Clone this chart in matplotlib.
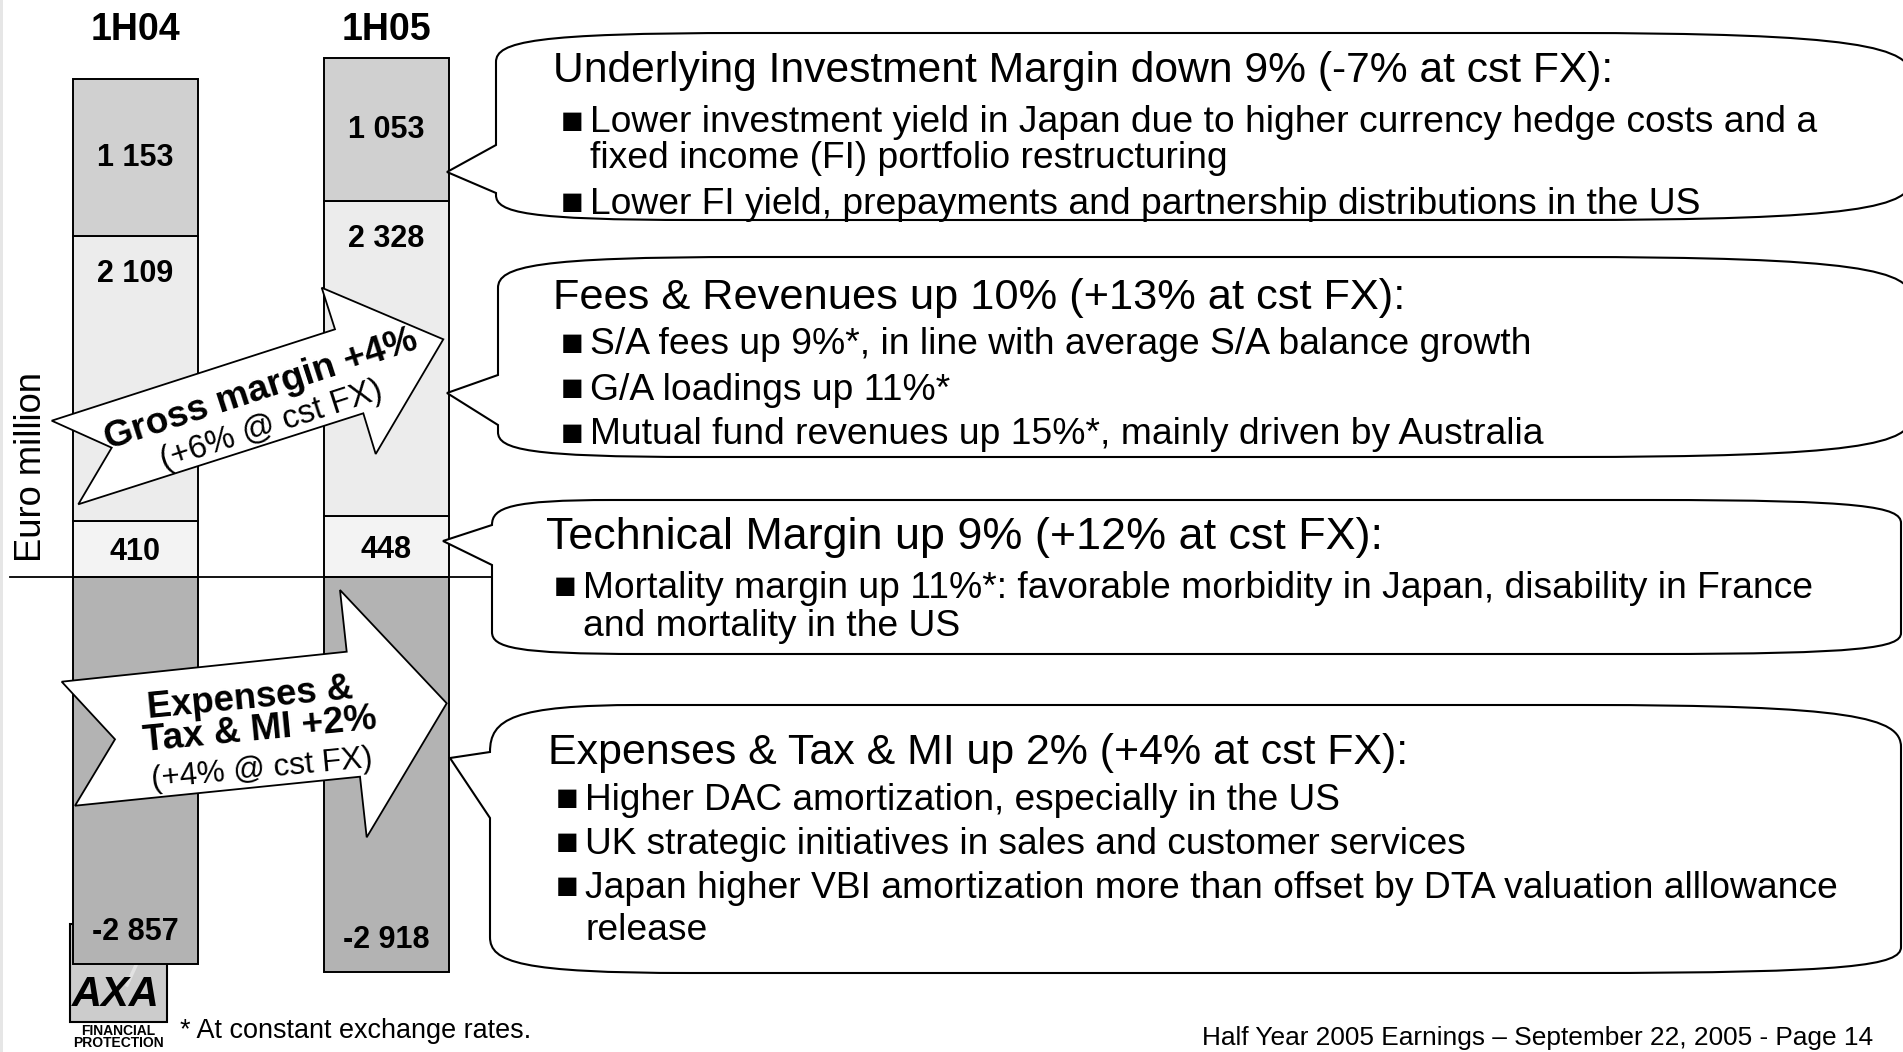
import matplotlib
matplotlib.use("Agg")
import matplotlib.pyplot as plt
from matplotlib.patches import Polygon, Rectangle, PathPatch
from matplotlib.path import Path
from matplotlib.transforms import blended_transform_factory

plt.rcParams['font.family'] = ['Liberation Sans', 'DejaVu Sans']

# ---------------- data ----------------
periods = ["1H04", "1H05"]
technical_margin = [410, 448]
fees_revenues = [2109, 2328]
investment_margin = [1153, 1053]
expenses_tax_mi = [-2857, -2918]

y_label = "Euro million"
gross_margin_text = ["Gross margin +4%", "(+6% @ cst FX)"]
expenses_text = ["Expenses &", "Tax & MI +2%", "(+4% @ cst FX)"]

callout_headings = [
    "Underlying Investment Margin down 9% (-7% at cst FX):",
    "Fees & Revenues up 10% (+13% at cst FX):",
    "Technical Margin up 9% (+12% at cst FX):",
    "Expenses & Tax & MI up 2% (+4% at cst FX):",
]
callout_bullets = [
    [("Lower investment yield in Japan due to higher currency hedge costs and a", True),
     ("fixed income (FI) portfolio restructuring", False),
     ("Lower FI yield, prepayments and partnership distributions in the US", True)],
    [("S/A fees up 9%*, in line with average S/A balance growth", True),
     ("G/A loadings up 11%*", True),
     ("Mutual fund revenues up 15%*, mainly driven by Australia", True)],
    [("Mortality margin up 11%*: favorable morbidity in Japan, disability in France", True),
     ("and mortality in the US", False)],
    [("Higher DAC amortization, especially in the US", True),
     ("UK strategic initiatives in sales and customer services", True),
     ("Japan higher VBI amortization more than offset by DTA valuation alllowance", True),
     ("release", False)],
]
footnote = "* At constant exchange rates."
footer = "Half Year 2005 Earnings \u2013 September 22, 2005 - Page 14"

# ---------------- figure / axes ----------------
W, H = 1903, 1052
fig = plt.figure(figsize=(W / 100, H / 100), dpi=100)
fig.patch.set_facecolor("white")

bg = fig.add_axes([0, 0, 1, 1])
bg.set_xlim(0, W); bg.set_ylim(H, 0); bg.axis("off")

ax = fig.add_axes([0, 0, 1, 1])
ax.axis("off")

fg = fig.add_axes([0, 0, 1, 1])
fg.set_xlim(0, W); fg.set_ylim(H, 0); fg.axis("off")

renderer = fig.canvas.get_renderer()

# bar axes scaling (pixel layout)
x_origin_px, x_unit_px = 135.5, 251.0
zero_px, y_unit_px = 577.0, 0.1355
ax.set_xlim(-x_origin_px / x_unit_px, (W - x_origin_px) / x_unit_px)
ax.set_ylim(-(H - zero_px) / y_unit_px, zero_px / y_unit_px)
bw = 125.0 / x_unit_px

EDGE = dict(edgecolor="black", linewidth=1.4)
xs = list(range(len(periods)))

ax.bar(xs, technical_margin, width=bw, color="#f3f3f3", zorder=2, **EDGE)
ax.bar(xs, fees_revenues, width=bw, bottom=technical_margin, color="#ececec", zorder=2, **EDGE)
bottom_inv = [a + b for a, b in zip(technical_margin, fees_revenues)]
ax.bar(xs, investment_margin, width=bw, bottom=bottom_inv, color="#d0d0d0", zorder=2, **EDGE)
ax.bar(xs, expenses_tax_mi, width=bw, color="#b3b3b3", zorder=2, **EDGE)

ax.axhline(0, xmin=10 / W, xmax=492 / W, color="black", linewidth=1.3, zorder=3)


def fmt(v):
    return f"{v:,}".replace(",", " ")


LBL = dict(ha="center", va="center", fontsize=22, fontweight="bold", zorder=4)
for i, x in enumerate(xs):
    ax.annotate(fmt(investment_margin[i]), (x, bottom_inv[i] + investment_margin[i] / 2),
                xytext=(0, 0), textcoords="offset pixels", **LBL)
    ax.annotate(fmt(fees_revenues[i]), (x, bottom_inv[i]), xytext=(0, -38),
                textcoords="offset pixels", **LBL)
    ax.annotate(fmt(technical_margin[i]), (x, technical_margin[i] / 2),
                xytext=(0, -3), textcoords="offset pixels", **LBL)
    ax.annotate(fmt(expenses_tax_mi[i]), (x, expenses_tax_mi[i]), xytext=(0, 32),
                textcoords="offset pixels", **LBL)

trans_per = blended_transform_factory(ax.transData, fg.transData)
for i, x in enumerate(xs):
    ax.text(x, 30, periods[i], transform=trans_per, ha="center", va="center",
            fontsize=27, fontweight="bold")


# ---------------- helpers ----------------
def fit(axh, x, y, s, width, size=20, rotation=0, **kw):
    t = axh.text(x, y, s, fontsize=size, **kw)
    w = t.get_window_extent(renderer).width
    t.set_fontsize(size * width / w)
    if rotation:
        t.set_rotation(rotation)
        t.set_rotation_mode("anchor")
    return t


# left light strip
bg.add_patch(Rectangle((0, 0), 3, H, facecolor="#e6e6e6", edgecolor="none"))

# AXA logo (behind bars)
bg.add_patch(Rectangle((70, 924), 97, 98, facecolor="#cccccc", edgecolor="black", linewidth=1.5, zorder=1))
bg.plot([127, 137], [985, 963], color="#e2e2e2", linewidth=2.5, zorder=1.5)
bg.text(116, 995, "AXA", fontsize=30, ha="center", va="center", fontweight="bold",
        style="italic", zorder=2)
bg.text(118, 1031, "FINANCIAL", fontsize=10, ha="center", va="center", fontweight="bold", zorder=2)
bg.text(118, 1043, "PROTECTION", fontsize=10, ha="center", va="center", fontweight="bold", zorder=2)

# y label
fit(fg, 32, 467, y_label, 190, 26, rotation=90, ha="center", va="center")

# ---------------- big arrows ----------------
gm_poly = [(51.7, 420.7), (111.7, 447.7), (78.3, 504.3), (363.3, 413.3), (375.7, 454.0),
           (443.3, 339.3), (321.7, 287.7), (335.0, 329.3)]
ex_poly = [(61.7, 681.7), (115.0, 739.3), (75.0, 805.7), (360.0, 776.7), (366.7, 837.3),
           (446.7, 703.3), (340.0, 590.0), (346.7, 651.7)]
for poly in (gm_poly, ex_poly):
    fg.add_patch(Polygon(poly, closed=True, facecolor="white", edgecolor="black",
                         linewidth=1.3, joinstyle="miter", zorder=5))

fit(fg, 261, 390, gross_margin_text[0], 327, 26, rotation=18,
    ha="center", va="center", fontweight="bold", zorder=6)
fit(fg, 271, 425, gross_margin_text[1], 232, 22, rotation=18,
    ha="center", va="center", zorder=6)

fit(fg, 250, 699, expenses_text[0], 207, 26, rotation=5.5,
    ha="center", va="center", fontweight="bold", zorder=6)
fit(fg, 260, 730, expenses_text[1], 235, 26, rotation=5.5,
    ha="center", va="center", fontweight="bold", zorder=6)
fit(fg, 262, 769, expenses_text[2], 222, 22, rotation=5.5,
    ha="center", va="center", zorder=6)


# ---------------- callouts ----------------
def callout(xl, xr, yt, yb, lt, lb, rt, rb, pt, tip, pb, sp):
    slt, slb, srt, srb = sp
    v = [(xl, pt), (xl, lt),
         (xl, yt + 0.3 * (lt - yt)), (xl + 0.15 * slt, yt), (xl + slt, yt),
         (xr - srt, yt),
         (xr - 0.15 * srt, yt), (xr, yt + 0.3 * (rt - yt)), (xr, rt),
         (xr, rb),
         (xr, yb - 0.3 * (yb - rb)), (xr - 0.15 * srb, yb), (xr - srb, yb),
         (xl + slb, yb),
         (xl + 0.15 * slb, yb), (xl, yb - 0.3 * (yb - lb)), (xl, lb),
         (xl, pb), tip, (xl, pt)]
    c = [Path.MOVETO, Path.LINETO,
         Path.CURVE4, Path.CURVE4, Path.CURVE4,
         Path.LINETO,
         Path.CURVE4, Path.CURVE4, Path.CURVE4,
         Path.LINETO,
         Path.CURVE4, Path.CURVE4, Path.CURVE4,
         Path.LINETO,
         Path.CURVE4, Path.CURVE4, Path.CURVE4,
         Path.LINETO, Path.LINETO, Path.CLOSEPOLY]
    fg.add_patch(PathPatch(Path(v, c), facecolor="white", edgecolor="black",
                           linewidth=1.5, zorder=3))


callout_geom = [
    dict(xl=496, xr=1912, yt=33, yb=220, lt=62, lb=195, rt=78, rb=178, pt=145, tip=(447, 172), pb=193,
         sp=(250, 200, 350, 350)),
    dict(xl=498, xr=1912, yt=257, yb=457, lt=288, lb=432, rt=300, rb=415, pt=375, tip=(447, 393), pb=425,
         sp=(250, 200, 350, 350)),
    dict(xl=492, xr=1901, yt=500, yb=654, lt=525, lb=632, rt=523, rb=633, pt=525, tip=(443, 541), pb=565,
         sp=(120, 150, 250, 250)),
    dict(xl=490, xr=1901, yt=705, yb=973, lt=752, lb=937, rt=747, rb=947, pt=752, tip=(450, 758), pb=818,
         sp=(150, 200, 320, 320)),
]
for g in callout_geom:
    callout(**g)

heading_x = [553, 553, 546, 548]
heading_y = [71, 298, 538, 753]
heading_end = [1614, 1405, 1381, 1408]
bullet_y = [[123, 159, 204], [345, 390, 435], [588, 627], [800, 844, 888, 930]]
bullet_end = [[1817, 1226, 1699], [1532, 950, 1544], [1813, 959], [1340, 1466, 1835, 702]]

for k in range(4):
    x0 = heading_x[k]
    fit(fg, x0, heading_y[k], callout_headings[k], heading_end[k] - x0, 28,
        ha="left", va="center", zorder=6)
    last_size = 24
    for j, (txt, has_bullet) in enumerate(callout_bullets[k]):
        y = bullet_y[k][j]
        tx = x0 + 37
        if has_bullet:
            fg.text(x0 + 8, y, "\u25a0", fontsize=27, ha="left", va="center", zorder=6,
                    family=["Liberation Sans", "DejaVu Sans"])
            t = fit(fg, tx, y, txt, bullet_end[k][j] - tx, 24, ha="left", va="center", zorder=6)
            last_size = t.get_fontsize()
        else:
            fg.text(tx, y, txt, fontsize=last_size, ha="left", va="center", zorder=6)

# footnote / footer
fit(fg, 180, 1031, footnote, 350, 20, ha="left", va="center", zorder=6)
fit(fg, 1202, 1038, footer, 673, 18, ha="left", va="center", zorder=6)

fig.savefig("out.png", dpi=100, facecolor="white")
